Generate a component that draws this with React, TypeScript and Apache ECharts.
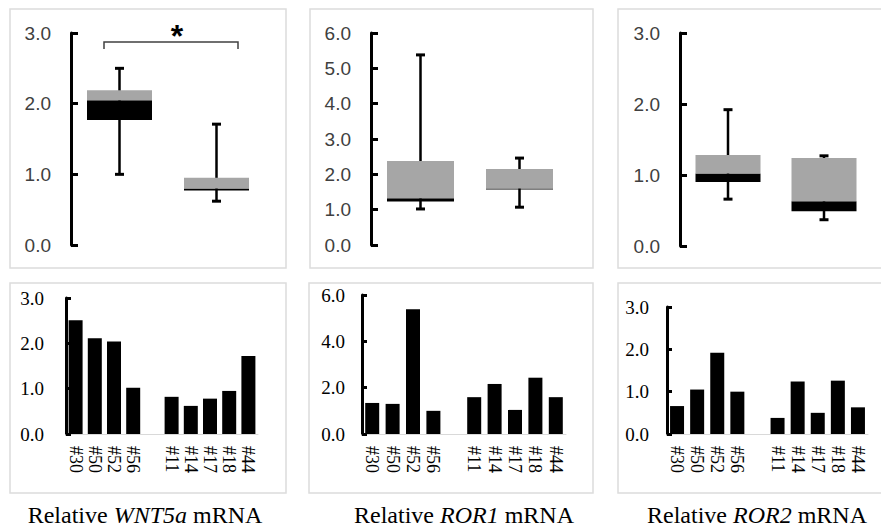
import React, { useEffect, useRef } from "react";
import * as echarts from "echarts";

// Box plot statistics per group: [min, Q1, median, Q3, max]
const groups = ["group A", "group B"];
const wnt5aBox = [
  [1.0, 1.77, 2.05, 2.19, 2.5],
  [0.62, 0.77, 0.8, 0.95, 1.71],
];
const ror1Box = [
  [1.02, 1.23, 1.32, 2.38, 5.38],
  [1.07, 1.57, 1.6, 2.15, 2.46],
];
const ror2Box = [
  [0.66, 0.9, 1.02, 1.28, 1.92],
  [0.37, 0.49, 0.63, 1.24, 1.27],
];

// Per-sample values
const samples = ["#30", "#50", "#52", "#56", "", "#11", "#14", "#17", "#18", "#44"];
const wnt5aBars = [2.51, 2.11, 2.04, 1.02, null, 0.82, 0.62, 0.78, 0.95, 1.72];
const ror1Bars = [1.34, 1.3, 5.39, 1.0, null, 1.59, 2.16, 1.04, 2.43, 1.59];
const ror2Bars = [0.66, 1.05, 1.92, 1.0, null, 0.38, 1.24, 0.5, 1.26, 0.63];

const geneNames = ["WNT5a", "ROR1", "ROR2"];

const SANS = "'Liberation Sans', Arial, sans-serif";
const SERIF = "'Liberation Serif', 'Times New Roman', serif";

function boxRender(widthFrac: number) {
  return (params: any, api: any) => {
    const x = api.value(0);
    const c = (v: number) => api.coord([x, v]);
    const [cx, yMin] = c(api.value(1));
    const yQ1 = c(api.value(2))[1];
    const yMed = c(api.value(3))[1];
    const yQ3 = c(api.value(4))[1];
    const yMax = c(api.value(5))[1];
    const band = api.size([1, 0])[0];
    const w = band * widthFrac;
    const capW = 4.5;
    return {
      type: "group",
      children: [
        { type: "line", shape: { x1: cx, y1: yMax, x2: cx, y2: yMin }, style: { stroke: "#000", lineWidth: 2.5 } },
        { type: "line", shape: { x1: cx - capW, y1: yMax, x2: cx + capW, y2: yMax }, style: { stroke: "#000", lineWidth: 3 } },
        { type: "line", shape: { x1: cx - capW, y1: yMin, x2: cx + capW, y2: yMin }, style: { stroke: "#000", lineWidth: 3 } },
        { type: "rect", shape: { x: cx - w / 2, y: yMed, width: w, height: Math.max(yQ1 - yMed, 1) }, style: { fill: "#000" } },
        { type: "rect", shape: { x: cx - w / 2, y: yQ3, width: w, height: yMed - yQ3 }, style: { fill: "#a6a6a6" } },
      ],
    };
  };
}

export default function App() {
  const ref = useRef<HTMLDivElement>(null);

  useEffect(() => {
    if (!ref.current) return;
    const chart = echarts.init(ref.current, undefined, { renderer: "svg" });

    const topGrids = [
      { left: 71, top: 33, width: 194, height: 212 },
      { left: 371, top: 33, width: 198, height: 212 },
      { left: 680, top: 33, width: 192, height: 213 },
    ];
    const bottomGrids = [
      { left: 66, top: 298, width: 192, height: 136 },
      { left: 362, top: 295, width: 204, height: 139 },
      { left: 667, top: 307, width: 201, height: 127 },
    ];
    const topMax = [3, 6, 3];
    const bottomMax = [3, 6, 3];
    const bottomInterval = [1, 2, 1];
    const bottomLabelMargin = [22, 17, 18];
    const boxes = [wnt5aBox, ror1Box, ror2Box];
    const bars = [wnt5aBars, ror1Bars, ror2Bars];
    const boxFrac = [65 / 97, 67 / 99, 65 / 96];

    const grid: any[] = [...topGrids, ...bottomGrids].map((g) => ({ ...g, containLabel: false }));

    const xAxis: any[] = [];
    const yAxis: any[] = [];
    const series: any[] = [];

    for (let i = 0; i < 3; i++) {
      xAxis.push({
        type: "category",
        gridIndex: i,
        data: groups,
        boundaryGap: true,
        axisLine: { show: false },
        axisTick: { show: false },
        axisLabel: { show: false },
      });
      yAxis.push({
        type: "value",
        gridIndex: i,
        min: 0,
        max: topMax[i],
        interval: 1,
        splitLine: { show: false },
        axisLine: { show: true, lineStyle: { color: "#000", width: 3 } },
        axisTick: { show: true, inside: true, length: 7, lineStyle: { color: "#000", width: 3 } },
        axisLabel: {
          color: "#404040",
          fontFamily: SANS,
          fontSize: 19,
          margin: 20,
          formatter: (v: number) => v.toFixed(1),
        },
      });
      series.push({
        type: "custom",
        xAxisIndex: i,
        yAxisIndex: i,
        renderItem: boxRender(boxFrac[i]),
        encode: { x: 0, y: [1, 2, 3, 4, 5] },
        data: boxes[i].map((b, k) => [k, ...b]),
        clip: false,
      });
    }

    for (let i = 0; i < 3; i++) {
      const gi = i + 3;
      xAxis.push({
        type: "category",
        gridIndex: gi,
        data: samples,
        boundaryGap: true,
        axisLine: { show: true, lineStyle: { color: "#d9d9d9", width: 1 } },
        axisTick: { show: false },
        axisLabel: {
          interval: 0,
          rotate: -90,
          color: "#000",
          fontFamily: SERIF,
          fontSize: 18,
          margin: 12,
        },
      });
      yAxis.push({
        type: "value",
        gridIndex: gi,
        min: 0,
        max: bottomMax[i],
        interval: bottomInterval[i],
        splitLine: { show: false },
        axisLine: { show: true, lineStyle: { color: "#000", width: 3 } },
        axisTick: { show: true, inside: true, length: 5, lineStyle: { color: "#000", width: 3 } },
        axisLabel: {
          color: "#000",
          fontFamily: SERIF,
          fontSize: 19,
          margin: bottomLabelMargin[i],
          formatter: (v: number) => v.toFixed(1),
        },
      });
      series.push({
        type: "bar",
        xAxisIndex: gi,
        yAxisIndex: gi,
        data: bars[i],
        barWidth: 14,
        itemStyle: { color: "#000" },
      });
    }

    const panelStroke = { stroke: "#dcdcdc", lineWidth: 1.5, fill: "none" };
    const panels = [
      [10, 9, 276, 259],
      [310, 9, 283, 259],
      [618, 9, 280, 259],
      [10, 283, 276, 210],
      [309, 283, 284, 210],
      [618, 283, 280, 210],
    ];
    const titleX = [145, 464, 757];

    const graphic: any[] = [
      ...panels.map(([x, y, w, h]) => ({
        type: "rect",
        shape: { x, y, width: w, height: h },
        style: panelStroke,
        silent: true,
        z: -1,
      })),
      {
        type: "polyline",
        shape: { points: [[104, 49], [104, 42], [238, 42], [238, 49]] },
        style: { stroke: "#404040", lineWidth: 1.5, fill: "none" },
      },
      {
        type: "text",
        x: 177,
        y: 36,
        style: {
          text: "*",
          fontFamily: SANS,
          fontWeight: "bold",
          fontSize: 32,
          fill: "#000",
          align: "center",
          verticalAlign: "middle",
        },
      },
      ...geneNames.map((g, i) => ({
        type: "text",
        x: titleX[i],
        y: 515,
        style: {
          text: `Relative {i|${g}} mRNA`,
          fontFamily: SERIF,
          fontSize: 24,
          fill: "#000",
          align: "center",
          verticalAlign: "middle",
          rich: {
            i: { fontFamily: SERIF, fontSize: 24, fontStyle: "italic", fill: "#000" },
          },
        },
      })),
    ];

    chart.setOption({
      animation: false,
      backgroundColor: "#fff",
      grid,
      xAxis,
      yAxis,
      series,
      graphic,
    });

    return () => chart.dispose();
  }, []);

  return (
    <div
      ref={ref}
      style={{ position: "fixed", left: 0, top: 0, width: 881, height: 531, background: "#fff" }}
    />
  );
}
